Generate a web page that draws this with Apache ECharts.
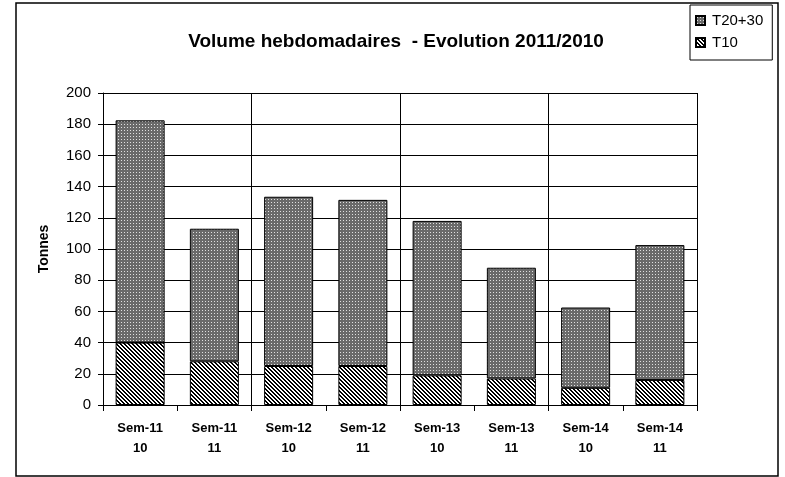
<!DOCTYPE html>
<html>
<head>
<meta charset="utf-8">
<script src="https://cdn.jsdelivr.net/npm/echarts@6/dist/echarts.min.js"></script>
<style>
  html, body { margin: 0; padding: 0; background: #fff; }
  #chart { width: 785px; height: 477px; }
</style>
</head>
<body>
<div id="chart"></div>
<script>
  // données
  const categories = ['Sem-11\n10', 'Sem-11\n11', 'Sem-12\n10', 'Sem-12\n11', 'Sem-13\n10', 'Sem-13\n11', 'Sem-14\n10', 'Sem-14\n11']
  const t10 = [40, 28, 25, 25, 19, 17, 11, 16]
  const t2030 = [142.5, 85, 108.5, 106.5, 99, 71, 51.5, 86.5]
  const yTicks = { min: 0, max: 200, step: 20 }

  const font = 'Liberation Sans, Arial, sans-serif'

  // motif gris pointillé (T20+30)
  function dotPattern() {
    const c = document.createElement('canvas')
    c.width = 3; c.height = 3
    const ctx = c.getContext('2d')
    ctx.fillStyle = '#6a6a6a'
    ctx.fillRect(0, 0, 3, 3)
    ctx.fillStyle = '#e0e0e0'
    ctx.fillRect(1, 1, 1, 1)
    return c
  }
  // hachures diagonales (T10)
  function hatchPattern() {
    const c = document.createElement('canvas')
    c.width = 4; c.height = 4
    const ctx = c.getContext('2d')
    ctx.fillStyle = '#fff'
    ctx.fillRect(0, 0, 4, 4)
    ctx.fillStyle = '#000'
    for (let y = 0; y < 4; y++) {
      for (let x = 0; x < 4; x++) {
        const d = ((x - y) % 4 + 4) % 4
        if (d === 0 || d === 1) ctx.fillRect(x, y, 1, 1)
      }
    }
    return c
  }

  const chart = echarts.init(document.getElementById('chart'), null, { renderer: 'canvas' })
  const option = {
    animation: false,
    backgroundColor: '#fff',
    textStyle: { fontFamily: font },
    title: {
      text: 'Volume hebdomadaires  - Evolution 2011/2010',
      left: 391,
      top: 27,
      textAlign: 'center',
      textStyle: { fontSize: 19, fontWeight: 'bold', color: '#000', fontFamily: font }
    },
    legend: {
      orient: 'vertical',
      left: 690,
      top: 5,
      padding: [8, 9, 10, 5],
      itemGap: 7,
      itemWidth: 9,
      itemHeight: 9,
      borderColor: '#000',
      borderWidth: 1,
      data: [{ name: 'T20+30', icon: 'rect' }, { name: 'T10', icon: 'rect' }],
      textStyle: { fontSize: 15, color: '#000', fontFamily: font, padding: [0, 0, 0, 2] }
    },
    graphic: [{
      type: 'rect',
      shape: { x: 16, y: 3, width: 762, height: 473 },
      style: { fill: 'none', stroke: '#000', lineWidth: 1.5 },
      silent: true
    }],
    grid: { left: 103, right: 88, top: 93, bottom: 72 },
    xAxis: {
      type: 'category',
      data: categories,
      boundaryGap: true,
      axisLine: { lineStyle: { color: '#000', width: 1 } },
      axisTick: { show: true, interval: 0, length: 6, lineStyle: { color: '#000' } },
      axisLabel: {
        interval: 0,
        margin: 13,
        fontSize: 13,
        fontWeight: 'bold',
        lineHeight: 20,
        color: '#000',
        fontFamily: font
      },
      splitLine: {
        show: true,
        interval: function (i) { return i % 2 === 0 },
        lineStyle: { color: '#000', width: 1 }
      }
    },
    yAxis: {
      type: 'value',
      min: yTicks.min,
      max: yTicks.max,
      interval: yTicks.step,
      name: 'Tonnes',
      nameLocation: 'middle',
      nameRotate: 90,
      nameGap: 52,
      nameTextStyle: { fontSize: 14, fontWeight: 'bold', color: '#000', fontFamily: font },
      axisLine: { show: true, lineStyle: { color: '#000', width: 1 } },
      axisTick: { show: true, length: 5, lineStyle: { color: '#000' } },
      axisLabel: { fontSize: 15, color: '#000', margin: 12, fontFamily: font },
      splitLine: { show: true, lineStyle: { color: '#000', width: 1 } }
    },
    series: [
      {
        name: 'T10',
        type: 'bar',
        stack: 'total',
        barWidth: '66%',
        itemStyle: {
          color: { image: hatchPattern(), repeat: 'repeat' },
          borderColor: '#000',
          borderWidth: 1
        },
        data: t10
      },
      {
        name: 'T20+30',
        type: 'bar',
        stack: 'total',
        barWidth: '66%',
        itemStyle: {
          color: { image: dotPattern(), repeat: 'repeat' },
          borderColor: '#000',
          borderWidth: 1
        },
        data: t2030
      }
    ]
  }
  chart.setOption(option)
</script>
</body>
</html>
